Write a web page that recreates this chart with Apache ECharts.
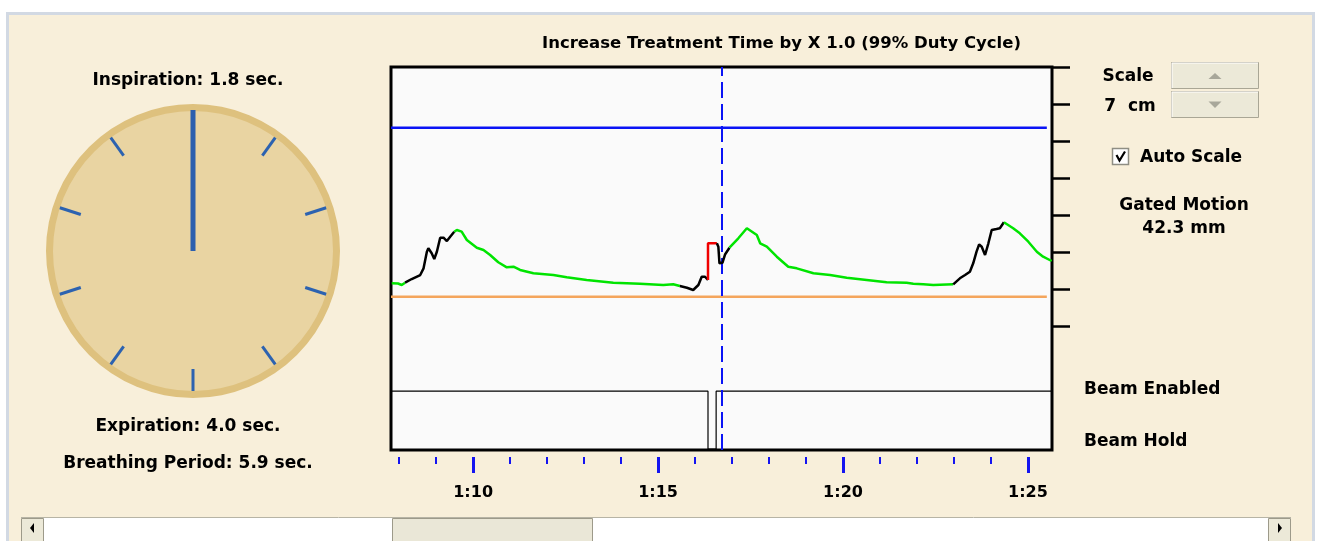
<!DOCTYPE html>
<html>
<head>
<meta charset="utf-8">
<script src="https://cdn.jsdelivr.net/npm/echarts@6/dist/echarts.min.js"></script>
<style>
  html, body { margin: 0; padding: 0; background: #fff; }
  #gatingChart { width: 1317px; height: 541px; }
</style>
</head>
<body>
<div id="gatingChart"></div>
<script>
// x = seconds (1:10 -> 70), y = amplitude in mm
var timeMin = 67.78, timeMax = 85.65;
var ampMin = -33.51, ampMax = 70;
var majorTicks = [70, 75, 80, 85];
var majorLabels = ['1:10', '1:15', '1:20', '1:25'];
var minorTicks = [68, 69, 71, 72, 73, 74, 76, 77, 78, 79, 81, 82, 83, 84];
var scaleTicks = [0, 10, 20, 30, 40, 50, 60, 70];

// breathing trace, split by colour (green = in gate, black = out, red = hold)
var green1 = [[67.80, 11.54], [67.97, 11.49], [68.07, 11.08], [68.16, 11.70]];
var black1 = [[68.16, 11.70], [68.34, 12.70], [68.57, 13.78], [68.66, 15.59], [68.75, 20.08], [68.79, 21.00],
  [68.88, 19.65], [68.95, 18.11], [69.02, 20.08], [69.11, 23.86], [69.20, 23.86], [69.29, 22.97],
  [69.38, 24.14], [69.49, 25.49]];
var green2 = [[69.49, 25.49], [69.56, 25.95], [69.69, 25.49], [69.83, 23.24], [70.10, 21.16], [70.28, 20.54],
  [70.46, 19.19], [70.68, 17.22], [70.91, 15.86], [71.09, 16.03], [71.27, 15.14], [71.63, 14.24],
  [72.17, 13.78], [72.53, 13.16], [73.07, 12.43], [73.79, 11.70], [74.51, 11.43], [75.14, 11.08],
  [75.41, 11.27], [75.59, 10.81]];
var black2 = [[75.59, 10.81], [75.78, 10.35], [75.95, 9.73], [76.09, 11.08], [76.18, 13.32], [76.27, 13.32],
  [76.35, 12.43]];
var red1 = [[76.35, 12.43], [76.35, 22.35], [76.59, 22.35]];
var black3 = [[76.59, 22.35], [76.63, 21.43], [76.66, 16.95], [76.74, 17.08], [76.81, 19.32], [76.93, 21.16]];
var green3 = [[76.93, 21.16], [77.17, 23.70], [77.40, 26.41], [77.67, 24.59], [77.76, 22.35], [77.94, 21.43],
  [78.21, 18.73], [78.52, 16.03], [78.75, 15.59], [79.20, 14.24], [79.65, 13.78], [80.10, 13.05],
  [80.64, 12.43], [81.18, 11.81], [81.72, 11.70], [81.90, 11.43], [82.17, 11.27], [82.44, 11.08],
  [82.98, 11.27]];
var black4 = [[82.98, 11.27], [83.16, 12.89], [83.30, 13.78], [83.43, 14.68], [83.52, 16.95], [83.61, 20.08],
  [83.68, 22.08], [83.75, 21.43], [83.84, 19.19], [83.93, 22.35], [84.02, 25.95], [84.15, 26.22],
  [84.24, 26.41], [84.35, 28.03]];
var green4 = [[84.35, 28.03], [84.60, 26.41], [84.78, 25.05], [85.01, 22.78], [85.24, 20.08], [85.41, 18.73],
  [85.64, 17.57]];

var upperGate = [[67.78, 53.6], [85.51, 53.6]];
var lowerGate = [[67.78, 7.9], [85.51, 7.9]];
var beamSignal = [[67.78, -17.6], [76.35, -17.6], [76.35, -33.3], [76.57, -33.3], [76.57, -17.6], [85.65, -17.6]];
var cursorTime = 76.73;

var clockPhase = [0];
var inspirationSec = 1.8, expirationSec = 4.0, periodSec = 5.9;
var treatmentFactor = '1.0', dutyCycle = 99;
var scaleCm = 7, gatedMotionMm = 42.3;

var FONT = 'DejaVu Sans';
var chart = echarts.init(document.getElementById('gatingChart'));

function txt(text, x, y, size, align) {
  return {
    type: 'text', x: x, y: y, z: 10, silent: true,
    style: {
      text: text, fill: '#000', fontFamily: FONT, fontWeight: 'bold', fontSize: size,
      align: align || 'center', verticalAlign: 'middle'
    }
  };
}

function traceLine(data, color) {
  return {
    type: 'line', data: data, showSymbol: false, silent: true, z: 5,
    lineStyle: { color: color, width: 2.5 }
  };
}

var option = {
  animation: false,
  backgroundColor: '#fff',
  grid: {
    left: 391, top: 67, width: 661, height: 383,
    show: true, backgroundColor: '#FAFAFA', borderColor: '#000', borderWidth: 3
  },
  xAxis: [
    {
      type: 'value', min: timeMin, max: timeMax, position: 'bottom', offset: 7,
      axisLine: { show: false, onZero: false },
      axisTick: { show: true, customValues: majorTicks, length: 16, lineStyle: { color: '#1414F0', width: 3 } },
      axisLabel: {
        customValues: majorTicks, margin: 28, color: '#000',
        fontFamily: FONT, fontWeight: 'bold', fontSize: 16,
        formatter: function (v) { return majorLabels[majorTicks.indexOf(v)]; }
      },
      splitLine: { show: false }
    },
    {
      type: 'value', min: timeMin, max: timeMax, position: 'bottom', offset: 7,
      axisLine: { show: false, onZero: false },
      axisTick: { show: true, customValues: minorTicks, length: 7, lineStyle: { color: '#1414F0', width: 2 } },
      axisLabel: { show: false },
      splitLine: { show: false }
    }
  ],
  yAxis: {
    type: 'value', min: ampMin, max: ampMax, position: 'right',
    axisLine: { show: false, onZero: false },
    axisTick: { show: true, customValues: scaleTicks, length: 18, inside: false, lineStyle: { color: '#000', width: 2.5 } },
    axisLabel: { show: false },
    splitLine: { show: false }
  },
  series: [
    {
      type: 'gauge', center: [193, 251], radius: 147, startAngle: 90, endAngle: -270,
      min: 0, max: 10, splitNumber: 10, silent: true,
      axisLine: { lineStyle: { width: 7, color: [[1, '#DEC17E']] } },
      splitLine: { length: 22, distance: 0, lineStyle: { color: '#2C62B0', width: 3 } },
      axisTick: { show: false },
      axisLabel: { show: false },
      pointer: { icon: 'rect', length: 141, width: 5, itemStyle: { color: '#2C5FAE' } },
      anchor: { show: false },
      title: { show: false },
      detail: { show: false },
      data: clockPhase.map(function (v) { return { value: v }; })
    },
    {
      type: 'line', data: upperGate, showSymbol: false, silent: true, z: 3,
      lineStyle: { color: '#0A14F5', width: 2.5 }
    },
    {
      type: 'line', data: lowerGate, showSymbol: false, silent: true, z: 3,
      lineStyle: { color: '#F4A55C', width: 2.5 }
    },
    {
      type: 'line', data: beamSignal, showSymbol: false, silent: true, z: 3,
      lineStyle: { color: '#000', width: 1.2 },
      markLine: {
        silent: true, symbol: 'none', label: { show: false },
        lineStyle: { color: '#0A14F5', type: [16, 6], width: 2 },
        data: [{ xAxis: cursorTime }]
      }
    },
    traceLine(green1, '#00E400'),
    traceLine(black1, '#000'),
    traceLine(green2, '#00E400'),
    traceLine(black2, '#000'),
    traceLine(red1, '#F00000'),
    traceLine(black3, '#000'),
    traceLine(green3, '#00E400'),
    traceLine(black4, '#000'),
    traceLine(green4, '#00E400')
  ],
  graphic: [
    // panel
    { type: 'rect', z: -10, silent: true, shape: { x: 7.5, y: 13.5, width: 1306, height: 540 },
      style: { fill: '#F8EFDA', stroke: '#D2D9E3', lineWidth: 3 } },
    // clock face
    { type: 'circle', z: -5, silent: true, shape: { cx: 193, cy: 251, r: 142 }, style: { fill: '#E9D4A2' } },

    txt('Increase Treatment Time by X ' + treatmentFactor + ' (' + dutyCycle + '% Duty Cycle)', 781.5, 44, 16.5),
    txt('Inspiration: ' + inspirationSec.toFixed(1) + ' sec.', 188, 81, 17),
    txt('Expiration: ' + expirationSec.toFixed(1) + ' sec.', 188, 426.5, 17),
    txt('Breathing Period: ' + periodSec.toFixed(1) + ' sec.', 188, 463.5, 17),

    txt('Scale', 1128, 76.5, 17),
    txt(scaleCm + '  cm', 1130, 106.5, 17),
    // spin buttons
    { type: 'rect', silent: true, shape: { x: 1171.5, y: 62.5, width: 87, height: 26 },
      style: { fill: '#ECE9D8', stroke: '#A9A695', lineWidth: 1 } },
    { type: 'rect', silent: true, shape: { x: 1171.5, y: 91.5, width: 87, height: 26 },
      style: { fill: '#ECE9D8', stroke: '#A9A695', lineWidth: 1 } },
    { type: 'polyline', silent: true, shape: { points: [[1172, 88], [1172, 63], [1258, 63]] }, style: { stroke: '#fff', lineWidth: 1 } },
    { type: 'polyline', silent: true, shape: { points: [[1172, 117], [1172, 92], [1258, 92]] }, style: { stroke: '#fff', lineWidth: 1 } },
    { type: 'polygon', silent: true, shape: { points: [[1208.5, 79], [1221.5, 79], [1215, 73]] }, style: { fill: '#A8A79A' } },
    { type: 'polygon', silent: true, shape: { points: [[1208.5, 101.5], [1221.5, 101.5], [1215, 108]] }, style: { fill: '#A8A79A' } },

    // auto scale checkbox
    { type: 'rect', silent: true, shape: { x: 1112.5, y: 148.5, width: 16, height: 16 },
      style: { fill: '#fff', stroke: '#8F8E84', lineWidth: 1.5 } },
    { type: 'polyline', silent: true, shape: { points: [[1116.5, 155], [1119.5, 160.5], [1125, 151.5]] },
      style: { stroke: '#000', lineWidth: 2.2, fill: null } },
    txt('Auto Scale', 1140, 158, 17, 'left'),

    txt('Gated Motion', 1184, 205.5, 17),
    txt(gatedMotionMm.toFixed(1) + ' mm', 1184, 228.5, 17),

    txt('Beam Enabled', 1084, 389.5, 17, 'left'),
    txt('Beam Hold', 1084, 441.5, 17, 'left'),

    // scrollbar
    { type: 'rect', silent: true, shape: { x: 21, y: 517, width: 1270, height: 26 }, style: { fill: '#fff' } },
    { type: 'line', silent: true, shape: { x1: 21, y1: 517.5, x2: 1291, y2: 517.5 }, style: { stroke: '#B7B4A5', lineWidth: 1 } },
    { type: 'rect', silent: true, shape: { x: 21.5, y: 518.5, width: 22, height: 25 },
      style: { fill: '#ECE9D8', stroke: '#9D9A8A', lineWidth: 1 } },
    { type: 'rect', silent: true, shape: { x: 1268.5, y: 518.5, width: 22, height: 25 },
      style: { fill: '#ECE9D8', stroke: '#9D9A8A', lineWidth: 1 } },
    { type: 'rect', silent: true, shape: { x: 392.5, y: 518.5, width: 200, height: 25 },
      style: { fill: '#EAE7D7', stroke: '#9D9A8A', lineWidth: 1 } },
    { type: 'polygon', silent: true, shape: { points: [[34, 523], [34, 533], [30, 528]] }, style: { fill: '#000' } },
    { type: 'polygon', silent: true, shape: { points: [[1278, 523], [1278, 533], [1282, 528]] }, style: { fill: '#000' } }
  ]
};

chart.setOption(option);
</script>
</body>
</html>
